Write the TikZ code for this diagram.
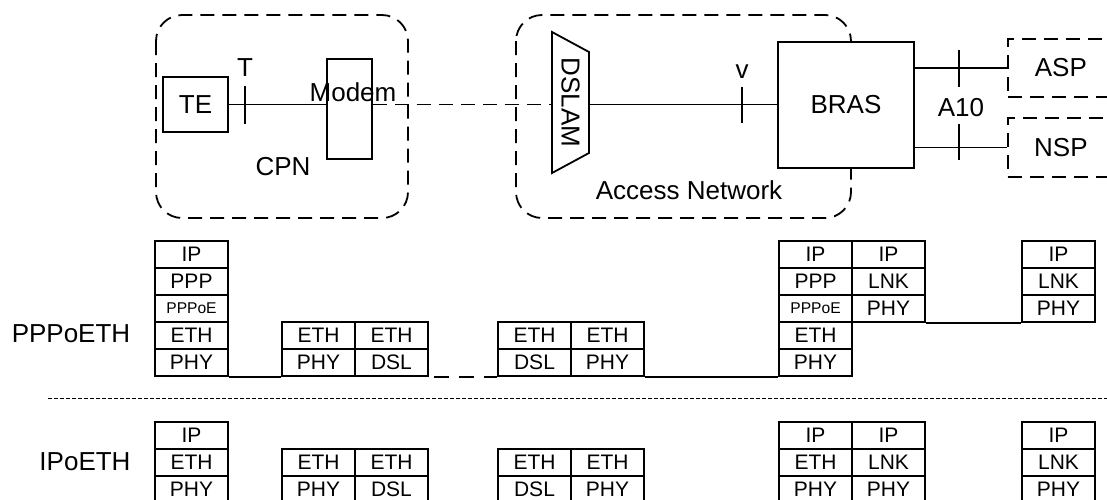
\documentclass[tikz,border=0pt]{standalone}
\usepackage{fontspec}
\setmainfont{Liberation Sans}
\usetikzlibrary{positioning}

\newcommand{\bigfont}{\fontsize{13}{15}\selectfont}
\newcommand{\stackfont}{\fontsize{10.5}{12}\selectfont}
\newcommand{\pppoelbl}{{\fontsize{7.8}{9}\selectfont PPPoE}}
\newcommand{\layercol}[4]{%
  \foreach \t [count=\i] in {#4}
    \node[cell] (#1\i) at (#2,{#3+27*\i-13.5}) {\t};}

\begin{document}
\begin{tikzpicture}[x=0.5pt,y=-0.5pt,
  box/.style={draw,line width=0.9pt,inner sep=0pt},
  region/.style={draw,line width=0.9pt,dash pattern=on 7pt off 4pt,rounded corners=13pt},
  link/.style={line width=0.8pt},
  cell/.style={draw,line width=0.9pt,minimum width=36.5pt,minimum height=13.5pt,inner sep=0pt,font=\stackfont},
  lbl/.style={font=\bigfont,inner sep=0pt}]
  \clip (0,0) rectangle (1107,499);

  \draw[region] (156,15) rectangle (408,218);
  \draw[region] (516,15) rectangle (851,218);

  \node[box,font=\bigfont,minimum width=32.5pt,minimum height=27.5pt] (te) at (195.5,104.5) {TE};
  \node[box,minimum width=22.5pt,minimum height=50pt] (modem) at (349.5,109) {};
  \node[lbl] (modemlbl) at (353,92) {Modem};
  \node[lbl] (cpn) at (283,167) {CPN};
  \node[lbl,rotate=-90,minimum width=70.5pt,minimum height=18.5pt] (dslam) at (570.5,102.5) {DSLAM};
  \draw[line width=0.9pt] (552,32) -- (589,52) -- (589,153) -- (552,173) -- cycle;
  \node[box,font=\bigfont,fill=white,minimum width=68pt,minimum height=63pt] (bras) at (846,105) {BRAS};
  \node[lbl] (acc) at (689,190) {Access Network};
  \node[box,font=\bigfont,dash pattern=on 7pt off 4pt,minimum width=53pt,minimum height=29pt,anchor=west] (asp) at (1007,68) {ASP};
  \node[box,font=\bigfont,dash pattern=on 7pt off 4pt,minimum width=53pt,minimum height=29.5pt,anchor=west] (nsp) at (1007,147.5) {NSP};

  \draw[link] (te) -- (modem.west |- te);
  \draw[link,dash pattern=on 7pt off 4pt] (modem.east |- te) -- (dslam.south |- te);
  \draw[link] (dslam.north |- te) -- (bras.west |- te);
  \draw[link] (bras.east |- asp.west) -- (asp.west);
  \draw[link] (bras.east |- nsp.west) -- (nsp.west);

  \coordinate (tpt) at (245,104.5);
  \draw[link] (tpt) ++(0,-19) -- ++(0,38);
  \node[lbl] (tlbl) at (245,68) {T};
  \coordinate (vpt) at (742,104.5);
  \draw[link] (vpt) ++(0,-18) -- ++(0,36);
  \node[lbl] (vlbl) at (742,72) {v};
  \coordinate (aspt) at (959,68);
  \draw[link] (aspt) ++(0,-18.5) -- ++(0,37);
  \coordinate (nspt) at (959,147.5);
  \draw[link] (nspt) ++(0,-24) -- ++(0,36);
  \node[lbl] (a10) at (961,108) {A10};

  \node[lbl] (pppoeth) at (71,334) {PPPoETH};
  \node[lbl] (ipoeth) at (85,462) {IPoETH};

  \layercol{pa}{191.5}{241}{IP,PPP,\pppoelbl,ETH,PHY}
  \layercol{pb}{318.5}{322}{ETH,PHY}
  \layercol{pc}{391.5}{322}{ETH,DSL}
  \layercol{pd}{534.5}{322}{ETH,DSL}
  \layercol{pe}{607.5}{322}{ETH,PHY}
  \layercol{pf}{815.5}{241}{IP,PPP,\pppoelbl,ETH,PHY}
  \layercol{pg}{888.5}{241}{IP,LNK,PHY}
  \layercol{ph}{1058.5}{241}{IP,LNK,PHY}

  \draw[link] (pa5.south east) -- (pb2.south west);
  \draw[link,dash pattern=on 7.5pt off 5pt,dash phase=10pt] (pc2.south east) -- (pd2.south west);
  \draw[link] (pe2.south east) -- (pf5.south west);
  \draw[link] (pg3.south east) -- (ph3.south west);

  \draw[line width=0.5pt,dash pattern=on 2pt off 1pt] (48,398) -- (1107,398);

  \layercol{ia}{191.5}{422}{IP,ETH,PHY}
  \layercol{ib}{318.5}{449}{ETH,PHY}
  \layercol{ic}{391.5}{449}{ETH,DSL}
  \layercol{id}{534.5}{449}{ETH,DSL}
  \layercol{ie}{607.5}{449}{ETH,PHY}
  \layercol{if}{815.5}{422}{IP,ETH,PHY}
  \layercol{ig}{888.5}{422}{IP,LNK,PHY}
  \layercol{ih}{1058.5}{422}{IP,LNK,PHY}
\end{tikzpicture}
\end{document}
